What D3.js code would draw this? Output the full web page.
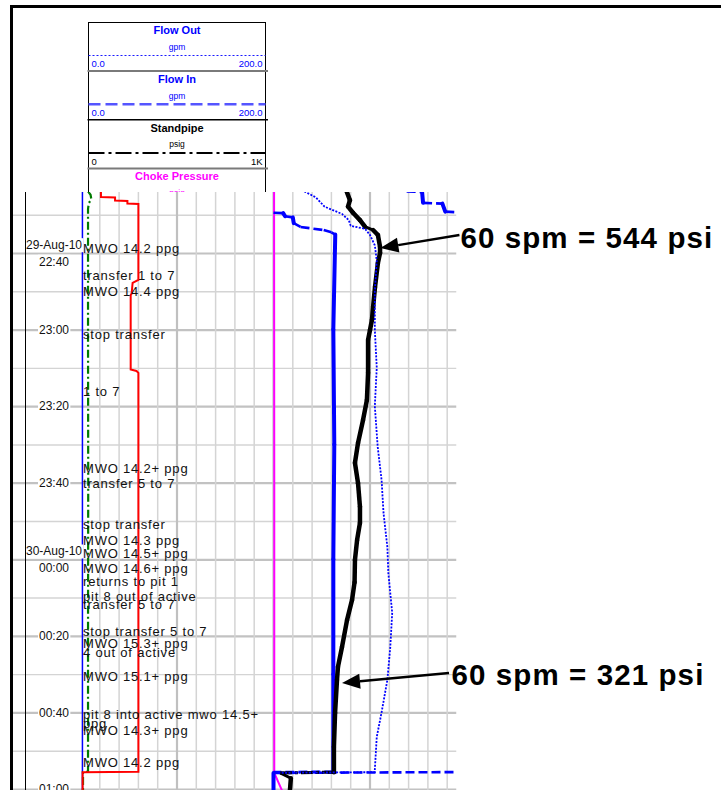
<!DOCTYPE html>
<html>
<head>
<meta charset="utf-8">
<script src="https://cdn.jsdelivr.net/npm/d3@7"></script>
<style>
  body { margin: 0; background: #fff; }
  svg { display: block; font-family: "Liberation Sans", Arial, sans-serif; }
</style>
</head>
<body>
<div id="chart"></div>
<script>
// Page size matches the screenshot
const width = 721, height = 790;

// Times are minutes after 22:00 on 29-Aug-10
const start = new Date(2010, 7, 29, 22, 0);
const at = m => new Date(start.getTime() + m * 60000);

// Right track traces, [minutes, value]
// flow in is the real rate, the track folds it back every 200 gpm
const flowIn = [[23.9, 138], [24.1, 154], [26.9, 155], [27.1, 175], [29.2, 178], [29.6, 210],
  [30.4, 212], [30.7, 220], [32.2, 221], [33.2, 228], [34.0, 252], [34.6, 260], [35.2, 264],
  [60, 262], [90, 263], [120, 262], [150, 262], [175.5, 262], [175.8, 0], [180.5, 0]];
const flowOut = [[23.9, 32], [25.5, 44], [27.9, 53], [29.8, 71], [31.4, 78], [32.9, 80], [33.7, 95],
  [35.3, 100], [38.0, 105], [42.0, 107], [50.0, 105], [60.0, 105], [70.0, 107], [80.0, 105],
  [90.7, 108], [99.3, 112], [107.9, 114], [116.8, 118], [123.6, 119], [134.0, 123], [143.0, 121],
  [151.5, 118], [160.0, 112], [166.4, 107], [175.0, 105], [175.6, 105], [175.8, 0], [180.5, 0]];
const standpipe = [[23.9, 379], [26.2, 396], [27.9, 386], [29.5, 412], [31.4, 448], [33.1, 474],
  [34.0, 516], [35.3, 541], [38.4, 552], [40.0, 552], [42.6, 541], [48.9, 526], [54.1, 516],
  [57.5, 510], [60.1, 500], [62.7, 490], [71.3, 490], [78.4, 484], [83.6, 464], [89.6, 438],
  [94.8, 422], [100.1, 438], [106.3, 448], [110.5, 448], [115.0, 433], [120.2, 422], [126.0, 420],
  [130.6, 407], [135.9, 381], [142.9, 355], [148.1, 334], [151.5, 329], [160.1, 319], [169.0, 313],
  [175.6, 313], [175.8, 35], [177.2, 90], [180.5, 85]];
const choke = [[23.9, 3], [100, 4], [175.8, 4], [180.5, 45]];

// Left track traces, [minutes, % of track]
const pitLevel = [[23.9, 10.6], [25.4, 10.6], [25.5, 17.9], [26.3, 17.9], [26.4, 24.3], [27.1, 24.3],
  [27.2, 30.0], [47.0, 30.0], [47.8, 27.0], [50.6, 26.5], [51.0, 26.0], [70.4, 26.0], [70.8, 29.0],
  [71.3, 30.0], [175.5, 30.0], [175.6, 1.1], [180.5, 1.1]];
const gasLevel = [[23.9, 3.9], [24.8, 5.2], [25.9, 5.6], [27.0, 4.3], [28.5, 3.9], [60, 3.9],
  [100, 4.0], [140, 3.9], [175.5, 3.9], [175.6, 1.3], [180.5, 1.3]];
const baseLevel = [[23.9, 1.0], [180.5, 1.0]];

// Log comments, [minutes, text]
const comments = [
  [38.7, "MWO 14.2 ppg"], [45.75, "transfer 1 to 7"], [50.1, "MWO 14.4 ppg"],
  [61.4, "stop transfer"], [76.2, "1 to 7"], [96.2, "MWO 14.2+ ppg"], [100.1, "transfer 5 to 7"],
  [110.8, "stop transfer"], [115.0, "MWO 14.3 ppg"], [118.6, "MWO 14.5+ ppg"],
  [122.5, "MWO 14.6+ ppg"], [125.9, "returns to pit 1"], [129.6, "pit 8 out of active"],
  [131.9, "transfer 5 to 7"], [138.9, "stop transfer 5 to 7"], [141.9, "MWO 15.3+ ppg"],
  [144.4, "4 out of active"], [150.7, "MWO 15.1+ ppg"], [160.6, "pit 8 into active mwo 14.5+"],
  [163.0, "ppg"], [164.8, "MWO 14.3+ ppg"], [173.1, "MWO 14.2 ppg"]
];

// Callouts: where each arrow head lands [minutes, psi], and its label
const calloutTips = [[38.7, 554], [152.3, 355]];
const calloutLabels = ["60 spm = 544 psi", "60 spm = 321 psi"];

// Header block
const legendNames = ["Flow Out", "Flow In", "Standpipe", "Choke Pressure"];
const legendUnits = ["gpm", "gpm", "psig", "psig"];
const legendRanges = [["0.0", "200.0"], ["0.0", "200.0"], ["0", "1K"], ["", ""]];

// styles for the header rows
const legendStyle = {
  "Flow Out": { color: "#0000ff", line: "#1a1aff", dash: "2,2", width: 1.2, rule: "#7a7a7a" },
  "Flow In": { color: "#0000ff", line: "#5555ff", dash: "12,5", width: 2.6, rule: "#000" },
  "Standpipe": { color: "#000", line: "#000", dash: "16,4,3,4", width: 2, rule: "#7a7a7a" },
  "Choke Pressure": { color: "#ff00ff", line: "#ff00ff", dash: null, width: 2, rule: "#7a7a7a" }
};

const svg = d3.select("#chart")
  .append("svg")
  .attr("width", width)
  .attr("height", height)
  .attr("viewBox", [0, 0, width, height]);

const plot = { top: 192, bottom: 790, left: 13, right: 456.5 };

// time runs down the page, 10 minutes is about 38 px
let y = d3.scaleTime().domain([at(40), at(180)]).range([253, 789]);
y = y.copy().domain([y.invert(plot.top), y.invert(plot.bottom)]).range([plot.top, plot.bottom]);

const xLeft = d3.scaleLinear().domain([0, 100]).range([80.5, 273.5]);
const xGpm = d3.scaleLinear().domain([0, 200]).range([273.5, 466.5]);
const xPsi = d3.scaleLinear().domain([0, 1000]).range([273.5, 466.5]);

// ---------- header (the log body covers it below plot.top)
svg.append("clipPath").attr("id", "legend-clip")
  .append("rect").attr("x", 0).attr("y", 0).attr("width", width).attr("height", plot.top);
const legend = svg.append("g").attr("clip-path", "url(#legend-clip)");
const lg = { left: 88.5, right: 265.5, top: 22.5, step: 48.7 };
const lgMid = (lg.left + lg.right) / 2;

legend.append("rect")
  .attr("x", lg.left).attr("y", lg.top)
  .attr("width", lg.right - lg.left).attr("height", 300)
  .attr("fill", "#fff").attr("stroke", "#000");

legendNames.forEach((name, i) => {
  const st = legendStyle[name];
  const top = lg.top + i * lg.step;
  legend.append("text")
    .attr("x", lgMid).attr("y", top + 8).attr("dy", "0.35em")
    .attr("text-anchor", "middle")
    .attr("font-size", 11).attr("font-weight", "bold")
    .attr("fill", st.color).text(name);
  legend.append("text")
    .attr("x", lgMid).attr("y", top + 24.5).attr("dy", "0.35em")
    .attr("text-anchor", "middle").attr("font-size", 8.5)
    .attr("fill", st.color).text(legendUnits[i]);
  legend.append("line")
    .attr("x1", lg.left).attr("x2", lg.right)
    .attr("y1", top + 33).attr("y2", top + 33)
    .attr("stroke", st.line).attr("stroke-width", st.width)
    .attr("stroke-dasharray", st.dash);
  legend.append("text")
    .attr("x", lg.left + 3).attr("y", top + 41.5).attr("dy", "0.35em")
    .attr("font-size", 9.5).attr("fill", st.color).text(legendRanges[i][0]);
  legend.append("text")
    .attr("x", lg.right - 3).attr("y", top + 41.5).attr("dy", "0.35em")
    .attr("text-anchor", "end")
    .attr("font-size", 9.5).attr("fill", st.color).text(legendRanges[i][1]);
  legend.append("line")
    .attr("x1", lg.left - 1).attr("x2", lg.right + 2.5)
    .attr("y1", top + 48.5).attr("y2", top + 48.5)
    .attr("stroke", st.rule).attr("stroke-width", st.rule === "#000" ? 1.5 : 2);
});

// ---------- log body
svg.append("clipPath").attr("id", "plot-clip")
  .append("rect")
  .attr("x", plot.left).attr("y", plot.top)
  .attr("width", plot.right - plot.left).attr("height", plot.bottom - plot.top);
const body = svg.append("g").attr("clip-path", "url(#plot-clip)");

body.append("rect")
  .attr("x", plot.left).attr("y", plot.top)
  .attr("width", plot.right - plot.left).attr("height", plot.bottom - plot.top)
  .attr("fill", "#fff");

// horizontal grid every 10 minutes, heavier every 20
body.append("g")
  .attr("transform", `translate(${plot.left},0)`)
  .call(d3.axisRight(y).ticks(d3.timeMinute.every(10)).tickSize(plot.right - plot.left).tickFormat(""))
  .call(g => g.select(".domain").remove())
  .selectAll("line")
  .attr("stroke", d => d.getMinutes() % 20 ? "#d4d4d4" : "#c2c2c2")
  .attr("stroke-width", d => d.getMinutes() % 20 ? 1.4 : 2.2);

// vertical grid, ten divisions per track, heavier at the half and the edges
const vgrid = xLeft.ticks(10).slice(1).map(v => ({ x: xLeft(v), major: v % 50 === 0 }))
  .concat(xPsi.ticks(10).slice(1).map(v => ({ x: xPsi(v), major: v % 500 === 0 })));
body.append("g")
  .selectAll("line")
  .data(vgrid)
  .join("line")
  .attr("x1", d => d.x).attr("x2", d => d.x)
  .attr("y1", plot.top).attr("y2", plot.bottom)
  .attr("stroke", d => d.major ? "#c0c0c0" : "#d4d4d4")
  .attr("stroke-width", d => d.major ? 2.2 : 1.5);

// thin rule between the frame and the time column
svg.append("line")
  .attr("x1", 25.5).attr("x2", 25.5)
  .attr("y1", plot.top).attr("y2", plot.bottom)
  .attr("stroke", "#000").attr("stroke-width", 1);

// fold a trace back into the track each time it passes full scale
function folded(points, span) {
  const runs = [];
  let run = [[points[0][0], points[0][1] - Math.floor(points[0][1] / span) * span]];
  d3.pairs(points).forEach(([[tp, vp], [t, v]]) => {
    let a = Math.floor(vp / span);
    const b = Math.floor(v / span);
    while (a !== b) {
      const up = b > a;
      const edge = (up ? a + 1 : a) * span;
      const tc = tp + (t - tp) * (edge - vp) / (v - vp);
      run.push([tc, up ? span : 0]);
      runs.push(run);
      run = [[tc, up ? 0 : span]];
      a += up ? 1 : -1;
    }
    run.push([t, v - b * span]);
  });
  runs.push(run);
  return runs;
}

// dense logged traces look solid going down, their line style shows on sideways sweeps
function pieces(runs, xs) {
  const out = [];
  runs.forEach(run => d3.pairs(run).forEach(([a, b]) => {
    const x1 = xs(a[1]), y1 = y(at(a[0])), x2 = xs(b[1]), y2 = y(at(b[0]));
    out.push({ x1, y1, x2, y2, sweep: Math.abs(x2 - x1) > Math.abs(y2 - y1) });
  }));
  return out;
}

function drawPieces(data, color, solidW, sweepW, dash) {
  body.append("g")
    .selectAll("line")
    .data(data)
    .join("line")
    .attr("x1", d => d.x1).attr("y1", d => d.y1)
    .attr("x2", d => d.x2).attr("y2", d => d.y2)
    .attr("stroke", color)
    .attr("stroke-width", d => d.sweep ? sweepW : solidW)
    .attr("stroke-linecap", d => d.sweep ? "butt" : "round")
    .attr("stroke-dasharray", d => d.sweep ? dash : null);
}

const lineFor = xs => d3.line().x(d => xs(d[1])).y(d => y(at(d[0])));

// left track
body.append("path").datum(baseLevel)
  .attr("d", lineFor(xLeft)).attr("fill", "none")
  .attr("stroke", "#0000ff").attr("stroke-width", 1.5);
body.append("path").datum(gasLevel)
  .attr("d", lineFor(xLeft)).attr("fill", "none")
  .attr("stroke", "#007a00").attr("stroke-width", 2.2)
  .attr("stroke-dasharray", "8,3,2,3");
body.append("path").datum(pitLevel)
  .attr("d", lineFor(xLeft)).attr("fill", "none")
  .attr("stroke", "#ff0000").attr("stroke-width", 2);

// right track
body.append("path").datum(choke)
  .attr("d", lineFor(xPsi)).attr("fill", "none")
  .attr("stroke", "#ff00ff").attr("stroke-width", 2);
drawPieces(pieces(folded(flowIn, 200), xGpm), "#0000ff", 4, 2.6, "9,4");
drawPieces(pieces([standpipe], xPsi), "#000", 4.5, 3, "12,3,3,3");
body.append("path").datum(flowOut)
  .attr("d", lineFor(xGpm)).attr("fill", "none")
  .attr("stroke", "#0000ff").attr("stroke-width", 1.8)
  .attr("stroke-dasharray", "2,1.4");

// comments
body.append("g")
  .selectAll("text")
  .data(comments)
  .join("text")
  .attr("x", xLeft(0) + 2.5)
  .attr("y", d => y(at(d[0])))
  .attr("dy", "0.35em")
  .attr("font-size", 13)
  .attr("letter-spacing", 0.8)
  .attr("fill", "#111")
  .text(d => d[1]);

// time column, date shown on the first label and at midnight
const timeTicks = y.ticks(d3.timeMinute.every(20));
const fmtTime = d3.timeFormat("%H:%M"), fmtDate = d3.timeFormat("%d-%b-%y");
const labelX = 54;
const timeLabels = [];
timeTicks.forEach((d, i) => {
  const withDate = i === 0 || (d.getHours() === 0 && d.getMinutes() === 0);
  if (withDate) {
    timeLabels.push({ text: fmtDate(d), y: y(d) - 8 });
    timeLabels.push({ text: fmtTime(d), y: y(d) + 8.5 });
  } else {
    timeLabels.push({ text: fmtTime(d), y: y(d) });
  }
});
const tl = body.append("g")
  .selectAll("g")
  .data(timeLabels)
  .join("g");
tl.append("text")
  .attr("x", labelX).attr("y", d => d.y).attr("dy", "0.35em")
  .attr("text-anchor", "middle").attr("font-size", 12).attr("fill", "#111")
  .text(d => d.text);
tl.insert("rect", "text")
  .each(function () {
    const b = this.parentNode.querySelector("text").getBBox();
    d3.select(this).attr("x", b.x - 1).attr("y", b.y).attr("width", b.width + 2).attr("height", b.height).attr("fill", "#fff");
  });

// callouts
const calloutLine = [[79, -13], [107, -10]];
const calloutText = [[80, 0], [109.5, 2]];
calloutTips.forEach(([t, p], i) => {
  const tx = xPsi(p), ty = y(at(t));
  const sx = tx + calloutLine[i][0], sy = ty + calloutLine[i][1];
  const len = Math.hypot(sx - tx, sy - ty);
  const ux = (sx - tx) / len, uy = (sy - ty) / len;
  const bx = tx + ux * 18, by = ty + uy * 18;
  svg.append("line")
    .attr("x1", sx).attr("y1", sy).attr("x2", bx).attr("y2", by)
    .attr("stroke", "#000").attr("stroke-width", 2.4);
  svg.append("path")
    .attr("d", `M${tx},${ty}L${bx - uy * 7.5},${by + ux * 7.5}L${bx + uy * 7.5},${by - ux * 7.5}Z`)
    .attr("fill", "#000");
  svg.append("text")
    .attr("x", tx + calloutText[i][0]).attr("y", ty + calloutText[i][1])
    .attr("font-size", 29.5).attr("font-weight", "bold").attr("letter-spacing", 1.1)
    .attr("fill", "#000")
    .text(calloutLabels[i]);
});

// outer frame
svg.append("rect").attr("x", 10).attr("y", 5).attr("width", width - 10).attr("height", 3).attr("fill", "#000");
svg.append("rect").attr("x", 10).attr("y", 5).attr("width", 3).attr("height", height - 5).attr("fill", "#000");
</script>
</body>
</html>
